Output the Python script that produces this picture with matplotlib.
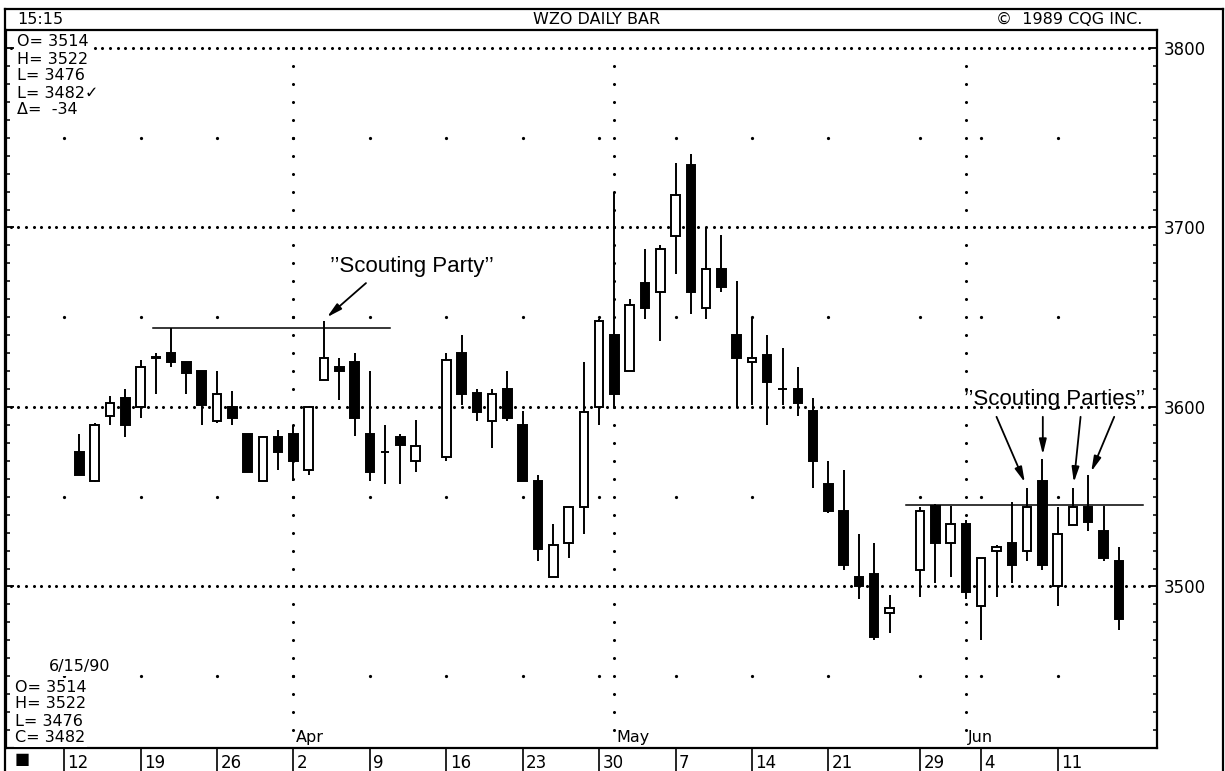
import matplotlib
matplotlib.use('Agg')
import matplotlib.pyplot as plt
import numpy as np
import matplotlib.transforms as mtransforms
from matplotlib.patches import Rectangle
from matplotlib.lines import Line2D
from matplotlib.ticker import MultipleLocator

# ---- data (slot = trading-day position, 0 = Mon Mar 12 1990) ----
slots = [1, 2, 3, 4, 5, 6, 7, 8, 9, 10, 11, 12, 13, 14, 15, 16, 17, 18, 19, 20,
         21, 22, 23, 25, 26, 27, 28, 29, 30, 31, 32, 33, 34, 35, 36, 37, 38, 39,
         40, 41, 42, 43, 44, 45, 46, 47, 48, 49, 50, 51, 52, 53, 54, 56, 57, 58,
         59, 60, 61, 62, 63, 64, 65, 66, 67, 68, 69]
opens = [3575, 3559, 3595, 3605, 3600, 3627, 3630, 3625, 3620, 3592, 3600, 3585,
         3559, 3583, 3585, 3565, 3615, 3622, 3625, 3585, 3575, 3583, 3570, 3572,
         3630, 3608, 3592, 3610, 3590, 3559, 3505, 3524, 3544, 3600, 3640, 3620,
         3669, 3664, 3695, 3735, 3655, 3677, 3640, 3625, 3629, 3610, 3610, 3598,
         3557, 3542, 3505, 3507, 3485, 3509, 3545, 3524, 3535, 3489, 3520, 3524,
         3520, 3559, 3500, 3534, 3544, 3531, 3514]
highs = [3585, 3591, 3606, 3610, 3626, 3630, 3644, 3625, 3620, 3620, 3609, 3585,
         3584, 3587, 3590, 3600, 3648, 3627, 3630, 3620, 3590, 3585, 3593, 3630,
         3640, 3610, 3610, 3620, 3598, 3562, 3535, 3544, 3625, 3649, 3720, 3660,
         3688, 3690, 3736, 3741, 3700, 3696, 3670, 3650, 3640, 3633, 3622, 3605,
         3570, 3565, 3529, 3524, 3495, 3544, 3546, 3545, 3537, 3516, 3523, 3547,
         3555, 3571, 3544, 3555, 3562, 3545, 3522]
lows = [3562, 3558, 3590, 3583, 3594, 3607, 3622, 3607, 3590, 3591, 3590, 3564,
        3559, 3565, 3559, 3562, 3615, 3604, 3584, 3559, 3557, 3557, 3564, 3570,
        3601, 3592, 3577, 3592, 3559, 3514, 3505, 3516, 3529, 3590, 3600, 3620,
        3649, 3637, 3674, 3652, 3649, 3664, 3600, 3601, 3590, 3601, 3595, 3555,
        3541, 3509, 3493, 3470, 3474, 3494, 3502, 3505, 3493, 3470, 3494, 3502,
        3514, 3509, 3489, 3534, 3531, 3514, 3476]
closes = [3562, 3590, 3602, 3590, 3622, 3628, 3625, 3619, 3601, 3607, 3594, 3564,
          3583, 3575, 3570, 3600, 3627, 3620, 3594, 3564, 3575, 3579, 3578, 3626,
          3607, 3597, 3607, 3594, 3559, 3521, 3523, 3544, 3597, 3648, 3607, 3657,
          3655, 3688, 3718, 3664, 3677, 3667, 3627, 3627, 3614, 3610, 3602, 3570,
          3542, 3512, 3500, 3472, 3488, 3542, 3524, 3535, 3497, 3516, 3522, 3512,
          3544, 3512, 3529, 3544, 3536, 3516, 3482]

week_slots = [0, 5, 10, 15, 20, 25, 30, 35, 40, 45, 50, 56, 60, 65]
week_labels = ['12', '19', '26', '2', '9', '16', '23', '30', '7', '14', '21', '29', '4', '11']
month_slots = [15, 36, 59]
month_labels = ['Apr', 'May', 'Jun']
price_ticks = [3500, 3600, 3700, 3800]
half_levels = [3450, 3550, 3650, 3750]

# resistance lines: (start slot, end slot, level)
resistance = [(5.8, 21.3, 3644), (55.1, 70.6, 3545.5)]

W, H = 1225, 771
fig = plt.figure(figsize=(W / 100, H / 100), dpi=100)
ax = fig.add_axes([6 / W, 23 / H, 1151 / W, 718 / H])
ax.set_xlim(-3.8, 71.5)
ax.set_ylim(3410, 3810)

cqg = dict(family='DejaVu Sans', fontsize=11.5, color='black')

# ---- dotted grid ----
x_dense = np.arange(-3.5, 71.5, 0.5)
for lvl in price_ticks:
    ax.plot(x_dense, np.full_like(x_dense, lvl), ls='none', marker='.', ms=2.4,
            color='black', zorder=1)
y_dense = np.arange(3420, 3801, 10)
for ms_ in month_slots:
    ax.plot(np.full_like(y_dense, ms_, dtype=float), y_dense, ls='none', marker='.',
            ms=2.4, color='black', zorder=1)
gx, gy = np.meshgrid(week_slots, half_levels)
ax.plot(gx.ravel(), gy.ravel(), ls='none', marker='.', ms=2.6, color='black', zorder=1)

# ---- candles ----
bw = 0.56
for s, o, h, l, c in zip(slots, opens, highs, lows, closes):
    ax.vlines(s, l, h, color='black', lw=1.4, zorder=3)
    face = 'white' if c >= o else 'black'
    ax.add_patch(Rectangle((s - bw / 2, min(o, c)), bw, abs(c - o), facecolor=face,
                           edgecolor='black', lw=1.4, zorder=4))

for x0, x1, lvl in resistance:
    ax.plot([x0, x1], [lvl, lvl], color='black', lw=1.1, zorder=2)

# ---- annotations ----
ann = dict(family=['Liberation Sans', 'DejaVu Sans'], fontsize=16, color='black')
arrow = dict(arrowstyle='-|>,head_length=0.9,head_width=0.22', color='black', lw=1.3,
             shrinkA=0, shrinkB=0)
ax.text(17.4, 3678, "\u2019\u2019Scouting Party\u2019\u2019", va='center', ha='left', **ann)
ax.annotate('', xy=(17.2, 3650), xytext=(19.75, 3669), arrowprops=arrow)

ax.text(58.9, 3604, "\u2019\u2019Scouting Parties\u2019\u2019", va='center', ha='left', **ann)
party_arrows = [((61.0, 3594.5), (62.85, 3558)),
                ((64.03, 3594.5), (64.03, 3573.5)),
                ((66.5, 3594.5), (66.06, 3558)),
                ((68.7, 3594.5), (67.2, 3564))]
for start, end in party_arrows:
    ax.annotate('', xy=end, xytext=start, arrowprops=arrow)

# month labels
for ms_, lab in zip(month_slots, month_labels):
    ax.text(ms_ + 0.15, 3411.5, lab, ha='left', va='bottom', **cqg)

# ---- axes styling ----
for sp in ax.spines.values():
    sp.set_linewidth(1.6)
ax.set_yticks(price_ticks)
ax.yaxis.set_minor_locator(MultipleLocator(10))
ax.tick_params(axis='y', which='both', left=True, right=True, direction='in',
               labelleft=False, labelright=True, labelsize=12, pad=5)
ax.tick_params(axis='y', which='major', length=6, width=1.3)
ax.tick_params(axis='y', which='minor', length=3, width=1.1)

ax.set_xticks(week_slots, week_labels)
ax.tick_params(axis='x', direction='out', length=16.5, width=1.2, pad=-12.3,
               labelsize=12)
offset = mtransforms.ScaledTranslation(2.5 / 72, 0, fig.dpi_scale_trans)
for lbl in ax.get_xticklabels():
    lbl.set_horizontalalignment('left')
    lbl.set_transform(lbl.get_transform() + offset)

# ---- info boxes ----
box = dict(facecolor='white', edgecolor='none', pad=1)
top_info = ['O= 3514', 'H= 3522', 'L= 3476', 'L= 3482\u2713', '\u0394=  -34']
for i, t in enumerate(top_info):
    fig.text(17 / W, 1 - (42 + 17 * i) / H, t, va='center', ha='left', bbox=box, **cqg)
fig.text(49 / W, 1 - 667 / H, '6/15/90', va='center', ha='left', bbox=box, **cqg)
bot_info = ['O= 3514', 'H= 3522', 'L= 3476', 'C= 3482']
for i, t in enumerate(bot_info):
    fig.text(15 / W, 1 - (687 + 17 * i) / H, t, va='center', ha='left', bbox=box, **cqg)
fig.text(15 / W, 1 - 760 / H, '\u25a0', va='center', ha='left', **cqg)

# ---- header and outer frame ----
fig.text(17 / W, 1 - 20 / H, '15:15', va='center', ha='left', **cqg)
fig.text(597 / W, 1 - 20 / H, 'WZO DAILY BAR', va='center', ha='center', **cqg)
fig.text(1142 / W, 1 - 20 / H, '\u00a9  1989 CQG INC.', va='center', ha='right', **cqg)

frame = [([5, 1223], [9, 9]), ([5, 5], [9, 771]), ([1223, 1223], [9, 771])]
for xs, ys in frame:
    fig.add_artist(Line2D([x / W for x in xs], [1 - y / H for y in ys],
                          transform=fig.transFigure, color='black', lw=1.6))

fig.savefig('out.png', dpi=100)
